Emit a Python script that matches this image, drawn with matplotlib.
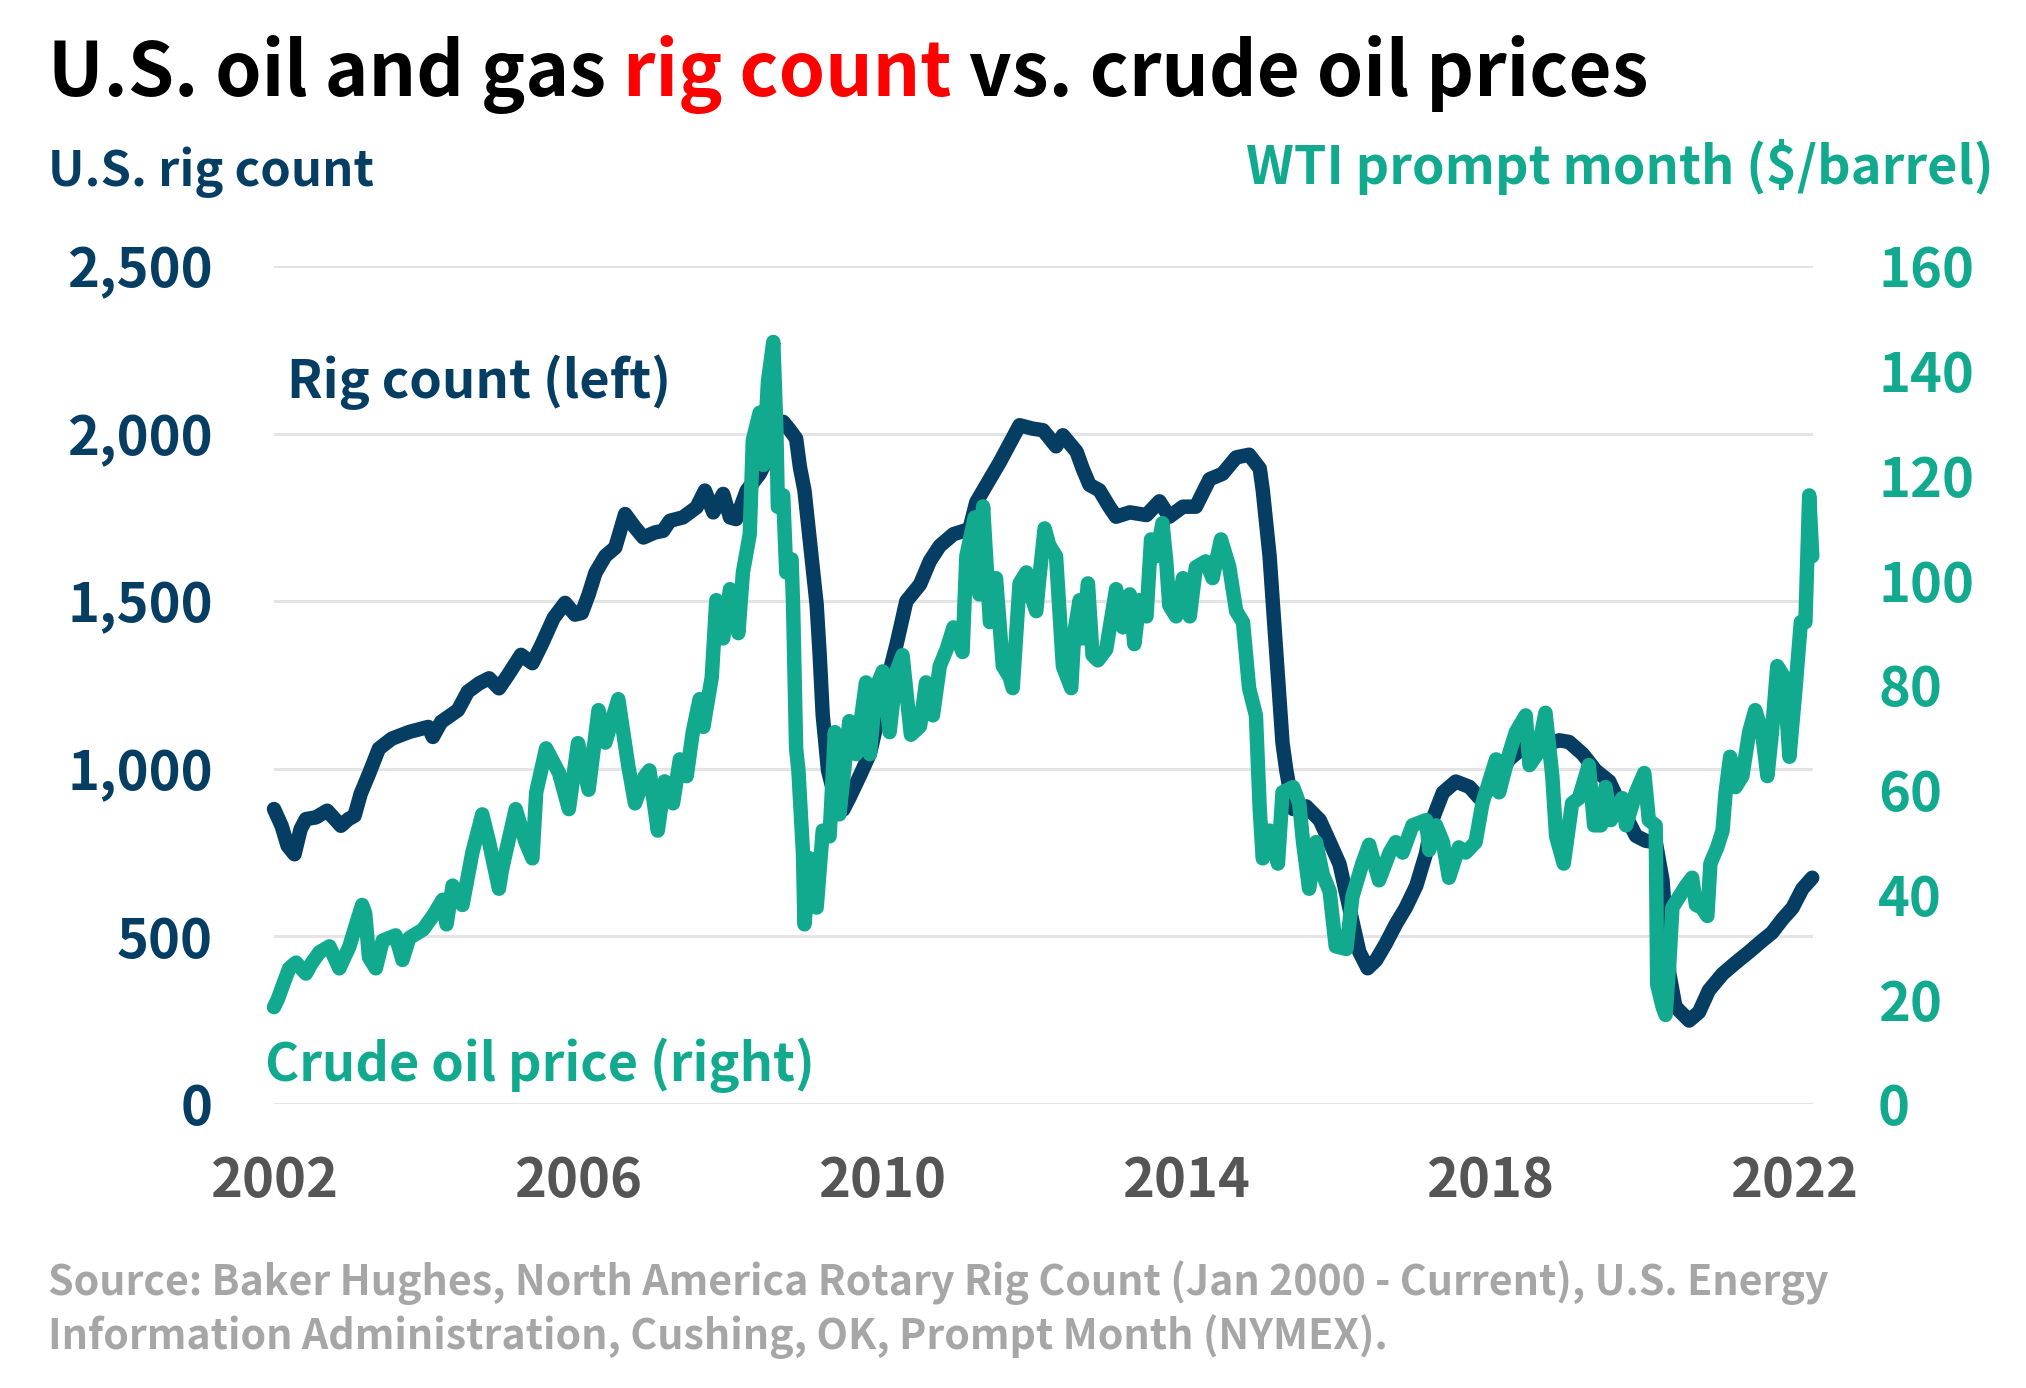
import matplotlib
matplotlib.use("Agg")
import matplotlib.pyplot as plt
from matplotlib.ticker import FuncFormatter, FixedLocator

FONT = ["Noto Sans CJK SC", "DejaVu Sans"]
plt.rcParams["font.family"] = FONT

NAVY = "#053d63"
TEAL = "#12aa8f"
RED = "#ff0000"
GRAY_TICK = "#555555"
GRAY_SRC = "#a6a6a6"
GRID = "#e4e4e4"

# ---- data ----
rig_years = [2002.00, 2002.10, 2002.18, 2002.27, 2002.35, 2002.42, 2002.55, 2002.70, 2002.80, 2002.88,
             2002.98, 2003.06, 2003.14, 2003.25, 2003.38, 2003.55, 2003.78, 2004.03, 2004.09, 2004.20,
             2004.42, 2004.55, 2004.70, 2004.83, 2004.96, 2005.08, 2005.25, 2005.40, 2005.52, 2005.68,
             2005.83, 2005.96, 2006.05, 2006.14, 2006.23, 2006.36, 2006.49, 2006.62, 2006.75, 2006.86,
             2007.01, 2007.12, 2007.21, 2007.38, 2007.56, 2007.67, 2007.78, 2007.91, 2008.00, 2008.08,
             2008.22, 2008.39, 2008.48, 2008.61, 2008.70, 2008.79, 2008.87, 2008.92, 2008.98, 2009.05,
             2009.14, 2009.18, 2009.22, 2009.29, 2009.40, 2009.49, 2009.57, 2009.71, 2009.84, 2010.01,
             2010.19, 2010.32, 2010.50, 2010.63, 2010.76, 2010.94, 2011.15, 2011.24, 2011.42, 2011.55,
             2011.68, 2011.81, 2011.98, 2012.12, 2012.29, 2012.38, 2012.56, 2012.64, 2012.73, 2012.86,
             2012.99, 2013.08, 2013.26, 2013.48, 2013.65, 2013.78, 2013.96, 2014.13, 2014.31, 2014.48,
             2014.66, 2014.83, 2014.97, 2015.01, 2015.10, 2015.14, 2015.19, 2015.23, 2015.27, 2015.32,
             2015.41, 2015.58, 2015.76, 2015.89, 2016.02, 2016.15, 2016.28, 2016.39, 2016.50, 2016.63,
             2016.76, 2016.89, 2017.03, 2017.16, 2017.24, 2017.38, 2017.55, 2017.73, 2017.86, 2018.03,
             2018.25, 2018.47, 2018.69, 2018.91, 2019.04, 2019.22, 2019.39, 2019.57, 2019.74, 2019.92,
             2020.05, 2020.18, 2020.27, 2020.36, 2020.44, 2020.62, 2020.75, 2020.88, 2021.06, 2021.23,
             2021.41, 2021.58, 2021.71, 2021.85, 2021.98, 2022.11, 2022.24]
rig_count = [880, 830, 770, 745, 820, 850, 855, 875, 850, 830,
             850, 860, 925, 985, 1060, 1090, 1110, 1125, 1095, 1140,
             1175, 1230, 1255, 1270, 1240, 1280, 1340, 1315, 1370, 1450,
             1495, 1460, 1465, 1520, 1585, 1635, 1660, 1760, 1720, 1690,
             1705, 1710, 1740, 1750, 1780, 1830, 1765, 1820, 1750, 1745,
             1830, 1880, 1920, 2010, 2035, 2010, 1985, 1900, 1830, 1680,
             1490, 1340, 1160, 995, 897, 878, 913, 980, 1045, 1210,
             1370, 1500, 1550, 1620, 1665, 1700, 1715, 1795, 1865, 1915,
             1970, 2025, 2015, 2010, 1962, 1995, 1946, 1896, 1847, 1831,
             1782, 1752, 1765, 1757, 1798, 1752, 1782, 1782, 1864, 1880,
             1929, 1937, 1896, 1831, 1634, 1503, 1339, 1208, 1077, 995,
             880, 888, 847, 782, 716, 585, 454, 405, 429, 479,
             536, 585, 651, 749, 847, 929, 962, 946, 913, 946,
             1028, 1070, 1069, 1085, 1080, 1044, 995, 962, 880, 800,
             785, 782, 667, 388, 290, 249, 274, 339, 388, 421,
             454, 487, 511, 552, 585, 642, 675]

oil_years = [2002.00, 2002.05, 2002.12, 2002.20, 2002.29, 2002.42, 2002.50, 2002.60, 2002.73, 2002.86,
             2002.99, 2003.08, 2003.16, 2003.20, 2003.25, 2003.34, 2003.43, 2003.60, 2003.69, 2003.78,
             2003.96, 2004.09, 2004.22, 2004.27, 2004.35, 2004.48, 2004.61, 2004.74, 2004.83, 2004.96,
             2005.00, 2005.18, 2005.31, 2005.40, 2005.45, 2005.58, 2005.75, 2005.88, 2006.00, 2006.14,
             2006.27, 2006.36, 2006.53, 2006.66, 2006.75, 2006.88, 2006.94, 2007.05, 2007.14, 2007.25,
             2007.34, 2007.43, 2007.51, 2007.60, 2007.65, 2007.76, 2007.82, 2007.91, 2008.00, 2008.11,
             2008.17, 2008.26, 2008.30, 2008.39, 2008.44, 2008.50, 2008.57, 2008.61, 2008.63, 2008.70,
             2008.74, 2008.81, 2008.83, 2008.87, 2008.90, 2008.96, 2008.98, 2009.05, 2009.14, 2009.22,
             2009.31, 2009.38, 2009.44, 2009.57, 2009.66, 2009.79, 2009.84, 2009.92, 2010.01, 2010.10,
             2010.19, 2010.27, 2010.38, 2010.50, 2010.58, 2010.67, 2010.76, 2010.85, 2010.94, 2011.06,
             2011.11, 2011.22, 2011.28, 2011.33, 2011.42, 2011.50, 2011.59, 2011.68, 2011.72, 2011.81,
             2011.90, 2011.94, 2012.03, 2012.07, 2012.14, 2012.20, 2012.29, 2012.38, 2012.49, 2012.53,
             2012.60, 2012.64, 2012.71, 2012.77, 2012.84, 2012.95, 2013.08, 2013.17, 2013.26, 2013.32,
             2013.39, 2013.48, 2013.54, 2013.61, 2013.69, 2013.74, 2013.78, 2013.87, 2013.96, 2014.05,
             2014.13, 2014.26, 2014.35, 2014.46, 2014.57, 2014.66, 2014.75, 2014.83, 2014.92, 2014.97,
             2015.01, 2015.10, 2015.21, 2015.27, 2015.41, 2015.49, 2015.54, 2015.62, 2015.71, 2015.80,
             2015.89, 2015.97, 2016.11, 2016.19, 2016.32, 2016.41, 2016.54, 2016.68, 2016.76, 2016.85,
             2016.98, 2017.16, 2017.20, 2017.29, 2017.38, 2017.46, 2017.59, 2017.68, 2017.81, 2017.90,
             2018.08, 2018.12, 2018.25, 2018.34, 2018.47, 2018.52, 2018.62, 2018.73, 2018.82, 2018.87,
             2018.97, 2019.08, 2019.17, 2019.30, 2019.37, 2019.46, 2019.52, 2019.59, 2019.74, 2019.79,
             2019.92, 2020.03, 2020.09, 2020.18, 2020.20, 2020.27, 2020.31, 2020.36, 2020.40, 2020.49,
             2020.58, 2020.66, 2020.71, 2020.79, 2020.86, 2020.90, 2020.99, 2021.06, 2021.10, 2021.16,
             2021.23, 2021.32, 2021.41, 2021.49, 2021.58, 2021.65, 2021.71, 2021.78, 2021.87, 2021.94,
             2022.02, 2022.09, 2022.15, 2022.20, 2022.24]
oil_price = [18.5, 20.0, 22.8, 25.9, 27.0, 24.9, 27.0, 29.0, 30.1, 25.9,
             30.0, 34.3, 38.0, 36.4, 28.0, 25.9, 31.2, 32.2, 27.5, 31.7,
             33.3, 35.9, 39.0, 34.3, 41.7, 38.0, 48.0, 55.3, 50.0, 41.1,
             44.8, 56.3, 50.0, 46.9, 59.5, 67.9, 63.2, 56.3, 68.9, 60.0,
             75.2, 69.0, 77.3, 64.7, 57.4, 62.6, 63.7, 52.2, 61.6, 57.4,
             65.8, 62.6, 71.0, 77.3, 72.0, 81.5, 96.2, 88.9, 98.3, 89.9,
             101.5, 108.8, 126.7, 132.0, 122.0, 138.0, 145.5, 128.8, 114.0, 116.2,
             101.5, 104.0, 95.2, 67.9, 63.7, 48.0, 34.3, 46.9, 37.5, 52.2,
             51.1, 71.0, 55.3, 73.1, 66.8, 80.5, 66.8, 79.4, 82.6, 71.0,
             82.6, 85.7, 70.5, 72.1, 80.5, 74.2, 83.6, 86.8, 91.0, 86.3,
             104.6, 112.0, 97.3, 114.1, 92.0, 100.4, 83.6, 81.5, 79.4, 99.4,
             101.5, 98.0, 94.1, 100.4, 109.9, 106.7, 104.6, 83.6, 79.4, 89.9,
             96.2, 88.9, 99.4, 85.7, 84.7, 86.8, 98.3, 91.0, 97.3, 87.8,
             96.2, 93.1, 107.8, 104.6, 110.9, 103.6, 95.2, 93.1, 100.4, 93.1,
             102.5, 103.6, 100.4, 107.8, 102.5, 94.1, 92.0, 79.4, 74.2, 56.3,
             46.9, 52.2, 45.9, 59.5, 60.5, 57.4, 50.0, 41.1, 50.0, 43.8,
             40.6, 30.1, 29.6, 39.6, 45.9, 49.5, 42.7, 48.0, 50.0, 48.0,
             53.2, 54.2, 48.5, 53.2, 50.0, 43.2, 49.0, 48.0, 50.0, 57.4,
             65.8, 59.5, 66.8, 71.0, 74.2, 64.7, 66.8, 74.7, 62.6, 51.1,
             45.9, 57.4, 58.4, 64.7, 53.2, 53.2, 60.5, 54.2, 58.4, 53.2,
             59.5, 63.2, 54.2, 53.2, 22.8, 18.6, 17.0, 27.0, 37.5, 39.6,
             41.7, 43.2, 38.0, 37.5, 35.9, 45.9, 49.0, 52.2, 59.5, 66.3,
             60.5, 62.6, 71.0, 75.2, 71.0, 62.6, 71.0, 83.6, 81.5, 66.3,
             79.4, 92.0, 92.0, 116.2, 104.6]

rig_ticks = [0, 500, 1000, 1500, 2000, 2500]
oil_ticks = [0, 20, 40, 60, 80, 100, 120, 140, 160]
year_ticks = [2002, 2006, 2010, 2014, 2018, 2022]

title_parts = [("U.S. oil and gas ", "black"), ("rig count", RED), (" vs. crude oil prices", "black")]
left_axis_title = "U.S. rig count"
right_axis_title = "WTI prompt month ($/barrel)"
rig_label = "Rig count (left)"
oil_label = "Crude oil price (right)"
source_lines = ["Source: Baker Hughes, North America Rotary Rig Count (Jan 2000 - Current), U.S. Energy",
                "Information Administration, Cushing, OK, Prompt Month (NYMEX)."]

# ---- figure ----
W, H = 2026, 1388
DPI = 200
fig = plt.figure(figsize=(W / DPI, H / DPI), dpi=DPI)
fig.patch.set_facecolor("white")

ax_l, ax_r, ax_b, ax_t = 274, 1813, 1104, 266
ax = fig.add_axes([ax_l / W, 1 - ax_b / H, (ax_r - ax_l) / W, (ax_b - ax_t) / H])
ax2 = ax.twinx()

LW = 5.2
ax.plot(rig_years, rig_count, color=NAVY, lw=LW, solid_joinstyle="round",
        solid_capstyle="round", zorder=3, clip_on=False)
ax2.plot(oil_years, oil_price, color=TEAL, lw=LW, solid_joinstyle="round",
         solid_capstyle="round", zorder=3, clip_on=False)

ax.set_xlim(2002, 2022.25)
ax.set_ylim(0, 2500)
ax2.set_ylim(0, 160)

for a in (ax, ax2):
    for s in a.spines.values():
        s.set_visible(False)
    a.tick_params(length=0)
    a.set_facecolor("none")

ax.yaxis.set_major_locator(FixedLocator(rig_ticks))
ax.yaxis.set_major_formatter(FuncFormatter(lambda v, p: f"{int(v):,}"))
ax2.yaxis.set_major_locator(FixedLocator(oil_ticks))
ax2.yaxis.set_major_formatter(FuncFormatter(lambda v, p: f"{int(v)}"))
ax.xaxis.set_major_locator(FixedLocator(year_ticks))
ax.xaxis.set_major_formatter(FuncFormatter(lambda v, p: f"{int(v)}"))

ax.yaxis.grid(True, color=GRID, lw=1.1, zorder=0)
ax.set_axisbelow(True)

TICK_FS = 19.5
ax.tick_params(axis="y", pad=22, labelsize=TICK_FS, labelcolor=NAVY)
ax2.tick_params(axis="y", pad=23.4, labelsize=TICK_FS, labelcolor=TEAL)
ax.tick_params(axis="x", pad=18, labelsize=TICK_FS, labelcolor=GRAY_TICK)
for lab in ax.get_yticklabels() + ax2.get_yticklabels() + ax.get_xticklabels():
    lab.set_fontweight("bold")
    lab.set_family(FONT)


def fx(px):
    return px / W


def fy(py):
    return 1 - py / H


# title in three coloured parts
fig.canvas.draw()
renderer = fig.canvas.get_renderer()
x = fx(48)
for txt, col in title_parts:
    t = fig.text(x, fy(96), txt, color=col, fontsize=26.8, fontweight="bold",
                 ha="left", va="baseline", family=FONT)
    bb = t.get_window_extent(renderer=renderer)
    x = bb.x1 / W

fig.text(fx(48), fy(186), left_axis_title, color=NAVY, fontsize=17.6, fontweight="bold",
         ha="left", va="baseline")
fig.text(fx(1994), fy(184), right_axis_title, color=TEAL, fontsize=18.8, fontweight="bold",
         ha="right", va="baseline")

fig.text(fx(287), fy(398), rig_label, color=NAVY, fontsize=18.85, fontweight="bold",
         ha="left", va="baseline")
fig.text(fx(265), fy(1081), oil_label, color=TEAL, fontsize=18.8, fontweight="bold",
         ha="left", va="baseline")

fig.text(fx(48), fy(1295), source_lines[0], color=GRAY_SRC, fontsize=14.8, fontweight="bold",
         ha="left", va="baseline")
fig.text(fx(48), fy(1349), source_lines[1], color=GRAY_SRC, fontsize=14.8, fontweight="bold",
         ha="left", va="baseline")

fig.savefig("out.png", dpi=DPI, facecolor="white")
